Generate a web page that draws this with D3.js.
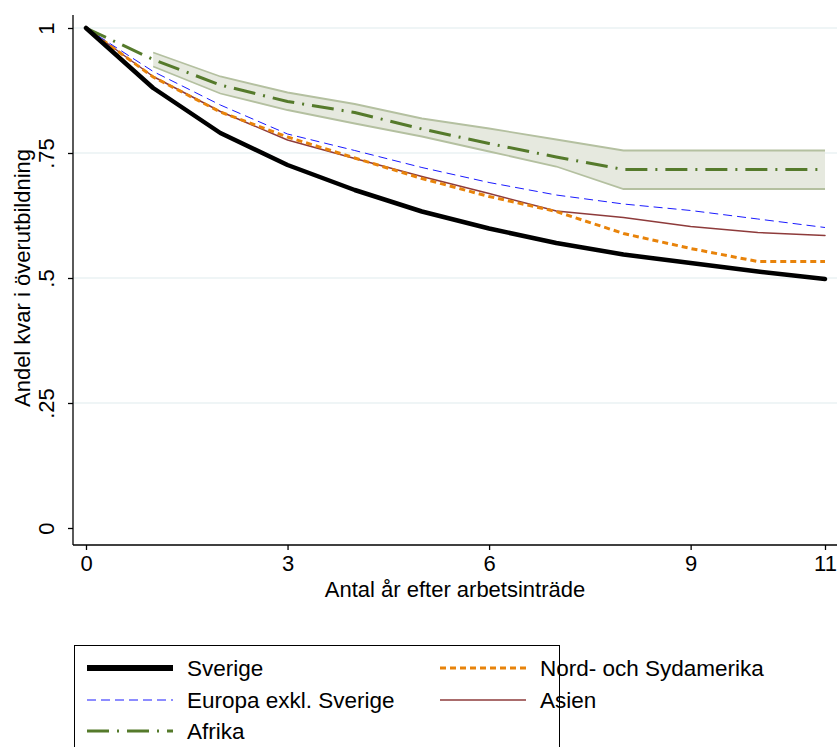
<!DOCTYPE html>
<html><head><meta charset="utf-8">
<script src="https://cdn.jsdelivr.net/npm/d3@7"></script>
<style>
body{margin:0;background:#fff;}
text{font-family:"Liberation Sans",Arial,sans-serif;fill:#000;}
</style></head><body>
<svg id="c" width="837" height="747"></svg>
<script>
const years = [0,1,2,3,4,5,6,7,8,9,10,11];
const sverige = [1.0,0.880,0.790,0.726,0.676,0.633,0.599,0.570,0.547,0.530,0.513,0.498];
const europa  = [1.0,0.913,0.846,0.788,0.755,0.721,0.691,0.666,0.648,0.635,0.618,0.601];
const amerika = [1.0,0.902,0.832,0.782,0.740,0.699,0.663,0.633,0.589,0.559,0.533,0.533];
const asien   = [1.0,0.903,0.833,0.776,0.739,0.703,0.669,0.634,0.621,0.603,0.591,0.585];
const afrika  = [1.0,0.937,0.886,0.853,0.831,0.798,0.769,0.742,0.717,0.717,0.717,0.717];
const afrikaHi= [null,0.951,0.903,0.871,0.848,0.819,0.799,0.777,0.755,0.755,0.755,0.755];
const afrikaLo= [null,0.923,0.869,0.836,0.809,0.783,0.753,0.723,0.678,0.678,0.678,0.678];
const yTicks = [0,0.25,0.5,0.75,1];
const yTickLabels = ["0",".25",".5",".75","1"];
const xTicks = [0,3,6,9,11];

const svg = d3.select("#c");
const x = d3.scaleLinear().domain([0,11]).range([86,825]);
const y = d3.scaleLinear().domain([0,1]).range([528,28]);

// gridlines
svg.append("g").selectAll("line").data(yTicks.filter(d=>d>0)).join("line")
  .attr("x1",73).attr("x2",837).attr("y1",d=>y(d)).attr("y2",d=>y(d))
  .attr("stroke","#eaf2f3").attr("stroke-width",1.5);

// band
const bandData = years.map((t,i)=>({t,hi:afrikaHi[i],lo:afrikaLo[i]})).filter(d=>d.hi!=null);
svg.append("path").datum(bandData)
  .attr("d",d3.area().x(d=>x(d.t)).y0(d=>y(d.lo)).y1(d=>y(d.hi)))
  .attr("fill","#e6e9df").attr("stroke","none");
svg.append("path").datum(bandData).attr("d",d3.line().x(d=>x(d.t)).y(d=>y(d.hi)))
  .attr("fill","none").attr("stroke","#b4c0a0").attr("stroke-width",1.8);
svg.append("path").datum(bandData).attr("d",d3.line().x(d=>x(d.t)).y(d=>y(d.lo)))
  .attr("fill","none").attr("stroke","#b4c0a0").attr("stroke-width",1.8);

const series = [
  {name:"Sverige", vals:sverige, color:"#000000", w:4.5, dash:null},
  {name:"Europa exkl. Sverige", vals:europa, color:"#1a1aff", w:1, dash:"9,5"},
  {name:"Afrika", vals:afrika, color:"#557a2b", w:3, dash:"22,8,2,8"},
  {name:"Nord- och Sydamerika", vals:amerika, color:"#e8830a", w:3, dash:"6,4"},
  {name:"Asien", vals:asien, color:"#8e3b3b", w:1.5, dash:null}
];
const drawOrder = [4,3,1,2,0];
const line = d3.line().x((d,i)=>x(years[i])).y(d=>y(d));
drawOrder.forEach(k=>{
  const s = series[k];
  svg.append("path").datum(s.vals).attr("d",line)
    .attr("fill","none").attr("stroke",s.color).attr("stroke-width",s.w)
    .attr("stroke-dasharray",s.dash).attr("stroke-linejoin","round").attr("stroke-linecap", s.dash?"butt":"round");
});

// axes
const yAxis = svg.append("g").attr("transform","translate(73,0)")
  .call(d3.axisLeft(y).tickValues(yTicks).tickFormat((d,i)=>yTickLabels[i]).tickSize(5).tickSizeOuter(0));
yAxis.select(".domain").attr("d","M0,15V545").attr("stroke","#000").attr("stroke-width",1.3);
yAxis.selectAll(".tick line").attr("stroke","#000").attr("stroke-width",1.3);
yAxis.selectAll(".tick text").attr("font-size",22).attr("text-anchor","middle")
  .attr("transform","translate(-27,0) rotate(-90)").attr("x",0).attr("dy","0.35em").attr("font-family","Liberation Sans, Arial, sans-serif");

const xAxis = svg.append("g").attr("transform","translate(0,545)")
  .call(d3.axisBottom(x).tickValues(xTicks).tickFormat(d3.format("d")).tickSize(5).tickSizeOuter(0));
xAxis.select(".domain").attr("d","M73,0H837").attr("stroke","#000").attr("stroke-width",1.3);
xAxis.selectAll(".tick line").attr("stroke","#000").attr("stroke-width",1.3);
xAxis.selectAll(".tick text").attr("font-size",22).attr("y",10).attr("dy","0.71em");

svg.append("text").attr("x",455).attr("y",597).attr("text-anchor","middle").attr("font-size",22)
  .text("Antal år efter arbetsinträde");
svg.append("text").attr("transform","translate(30,278) rotate(-90)").attr("text-anchor","middle").attr("font-size",22)
  .text("Andel kvar i överutbildning");

// legend
const lg = svg.append("g");
lg.append("rect").attr("x",74.5).attr("y",645.5).attr("width",485).attr("height",120)
  .attr("fill","#fff").attr("stroke","#000").attr("stroke-width",1);
const legPos = [
  {k:0,x:87,y:668},{k:1,x:87,y:700},{k:2,x:87,y:731},
  {k:3,x:440,y:668},{k:4,x:440,y:700}
];
legPos.forEach(p=>{
  const s = series[p.k];
  lg.append("line").attr("x1",p.x).attr("x2",p.x+86).attr("y1",p.y).attr("y2",p.y)
    .attr("stroke",s.color).attr("stroke-width",p.k===0?6:s.w).attr("stroke-dasharray",s.dash);
  lg.append("text").attr("x",p.x+100).attr("y",p.y).attr("dy","0.35em").attr("font-size",22.5).text(s.name);
});
</script></body></html>
